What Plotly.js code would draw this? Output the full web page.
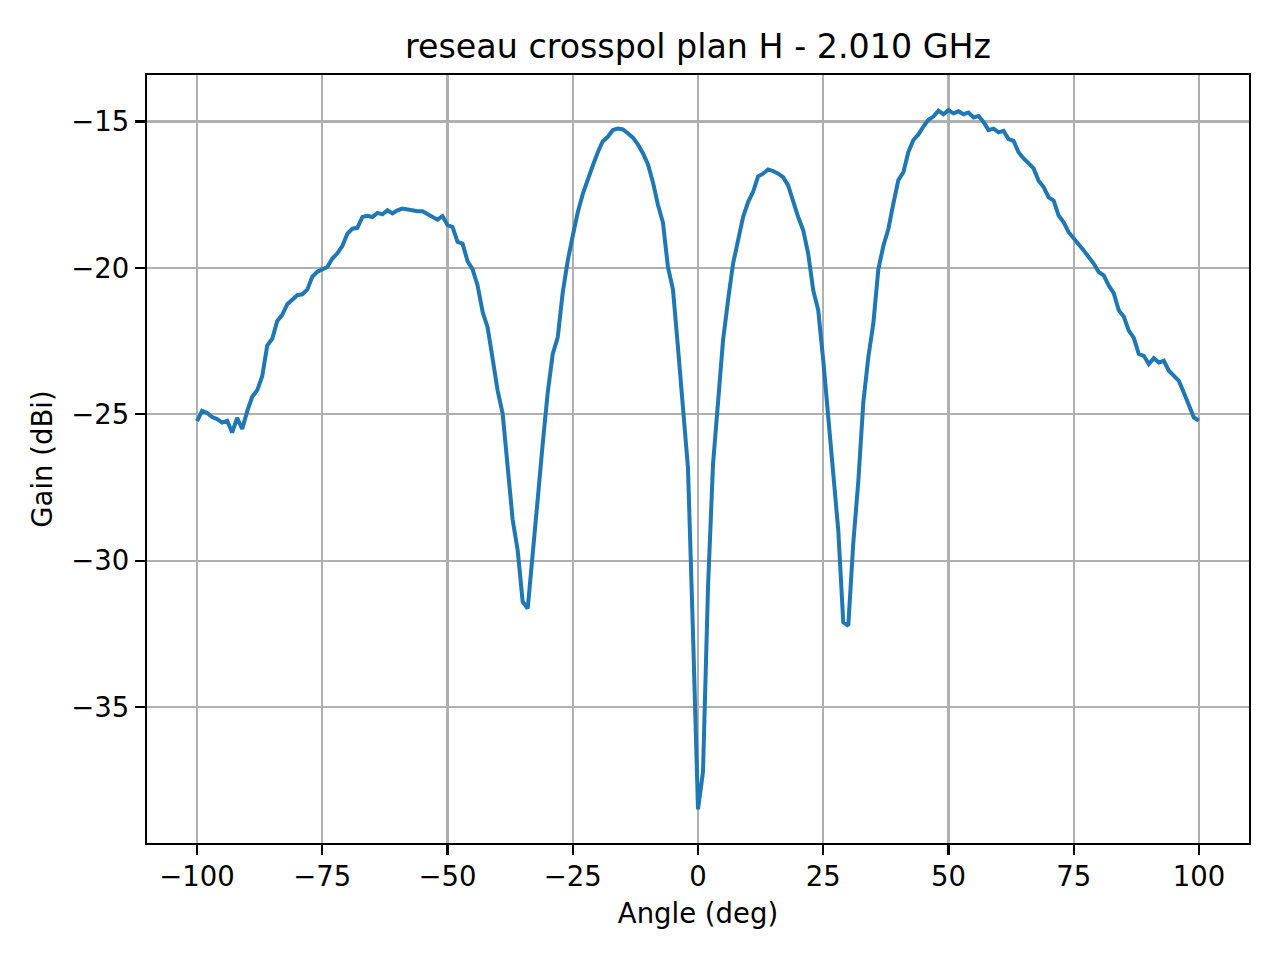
<!DOCTYPE html>
<html>
<head>
<meta charset="utf-8">
<script src="https://cdn.plot.ly/plotly-3.0.1.min.js"></script>
<style>
  html, body { margin: 0; padding: 0; background: #fff; }
  #plot { width: 1280px; height: 960px; }
</style>
</head>
<body>
<div id="plot"></div>
<script>
// angles, 1 deg steps
var angles = [
  -100, -99, -98, -97, -96, -95, -94, -93, -92, -91,
  -90, -89, -88, -87, -86, -85, -84, -83, -82, -81,
  -80, -79, -78, -77, -76, -75, -74, -73, -72, -71,
  -70, -69, -68, -67, -66, -65, -64, -63, -62, -61,
  -60, -59, -58, -57, -56, -55, -54, -53, -52, -51,
  -50, -49, -48, -47, -46, -45, -44, -43, -42, -41,
  -40, -39, -38, -37, -36, -35, -34, -33, -32, -31,
  -30, -29, -28, -27, -26, -25, -24, -23, -22, -21,
  -20, -19, -18, -17, -16, -15, -14, -13, -12, -11,
  -10, -9, -8, -7, -6, -5, -4, -3, -2, -1,
  0, 1, 2, 3, 4, 5, 6, 7, 8, 9,
  10, 11, 12, 13, 14, 15, 16, 17, 18, 19,
  20, 21, 22, 23, 24, 25, 26, 27, 28, 29,
  30, 31, 32, 33, 34, 35, 36, 37, 38, 39,
  40, 41, 42, 43, 44, 45, 46, 47, 48, 49,
  50, 51, 52, 53, 54, 55, 56, 57, 58, 59,
  60, 61, 62, 63, 64, 65, 66, 67, 68, 69,
  70, 71, 72, 73, 74, 75, 76, 77, 78, 79,
  80, 81, 82, 83, 84, 85, 86, 87, 88, 89,
  90, 91, 92, 93, 94, 95, 96, 97, 98, 99,
  100
];

// gain in dBi
var gain = [
  -25.23, -24.88, -24.95, -25.09, -25.16, -25.28, -25.22, -25.62, -25.12, -25.50,
  -24.90, -24.40, -24.18, -23.70, -22.65, -22.42, -21.81, -21.60, -21.24, -21.08,
  -20.93, -20.90, -20.74, -20.30, -20.13, -20.05, -19.97, -19.68, -19.50, -19.25,
  -18.83, -18.66, -18.63, -18.26, -18.22, -18.26, -18.12, -18.17, -18.03, -18.14,
  -18.03, -17.97, -18.00, -18.06, -18.06, -18.06, -18.17, -18.26, -18.35, -18.23,
  -18.54, -18.60, -19.11, -19.17, -19.77, -20.05, -20.60, -21.50, -22.03, -23.10,
  -24.19, -24.97, -26.90, -28.60, -29.64, -31.40, -31.63, -29.90, -27.90, -26.00,
  -24.25, -22.94, -22.37, -20.83, -19.75, -18.90, -18.10, -17.47, -16.96, -16.50,
  -16.05, -15.67, -15.52, -15.29, -15.24, -15.27, -15.40, -15.55, -15.78, -16.08,
  -16.46, -17.07, -17.84, -18.45, -19.97, -20.73, -22.71, -24.70, -26.83, -32.47,
  -38.49, -37.20, -30.90, -26.70, -24.60, -22.47, -21.10, -19.85, -19.06, -18.26,
  -17.75, -17.40, -16.87, -16.78, -16.64, -16.69, -16.78, -16.90, -17.18, -17.75,
  -18.26, -18.71, -19.51, -20.76, -21.44, -23.15, -25.09, -26.79, -28.95, -32.10,
  -32.22, -29.40, -27.30, -24.60, -23.05, -21.90, -20.05, -19.25, -18.67, -17.80,
  -17.00, -16.73, -16.04, -15.63, -15.44, -15.17, -14.94, -14.83, -14.63, -14.75,
  -14.61, -14.72, -14.65, -14.75, -14.69, -14.86, -14.81, -15.01, -15.29, -15.24,
  -15.37, -15.32, -15.60, -15.66, -16.05, -16.26, -16.43, -16.60, -17.02, -17.24,
  -17.59, -17.70, -18.21, -18.44, -18.78, -18.98, -19.17, -19.40, -19.63, -19.85,
  -20.14, -20.25, -20.60, -20.86, -21.45, -21.66, -22.14, -22.39, -22.94, -23.00,
  -23.28, -23.08, -23.23, -23.17, -23.51, -23.68, -23.86, -24.26, -24.68, -25.11,
  -25.21
];

var trace = {
  x: angles,
  y: gain,
  type: 'scatter',
  mode: 'lines',
  line: { color: '#1f77b4', width: 4 },
  hoverinfo: 'x+y'
};

var axisStyle = {
  showline: true,
  mirror: true,
  linecolor: '#000',
  linewidth: 2.2,
  ticks: 'outside',
  ticklen: 10,
  tickwidth: 2.2,
  tickcolor: '#000',
  showgrid: true,
  gridcolor: '#b0b0b0',
  gridwidth: 2.2,
  zeroline: false,
  tickfont: { size: 27.5, color: '#000' }
};

var layout = {
  width: 1280,
  height: 960,
  margin: { l: 147, r: 31, t: 75, b: 117 },
  paper_bgcolor: '#fff',
  plot_bgcolor: '#fff',
  font: { family: 'DejaVu Sans, sans-serif', color: '#000' },
  showlegend: false,
  title: {
    text: 'reseau crosspol plan H - 2.010 GHz',
    font: { size: 33.3, color: '#000' },
    x: 0.5, xref: 'paper',
    y: 0.952, yref: 'container', yanchor: 'middle'
  },
  xaxis: Object.assign({}, axisStyle, {
    range: [-110, 110],
    tick0: 0,
    dtick: 25,
    ticklabelstandoff: -2,
    title: { text: 'Angle (deg)', font: { size: 27.5 }, standoff: 13 }
  }),
  yaxis: Object.assign({}, axisStyle, {
    range: [-39.64, -13.41],
    tick0: 0,
    dtick: 5,
    title: { text: 'Gain (dBi)', font: { size: 27.5 }, standoff: 11 }
  })
};

Plotly.newPlot('plot', [trace], layout, { displayModeBar: false, staticPlot: true });
</script>
</body>
</html>
